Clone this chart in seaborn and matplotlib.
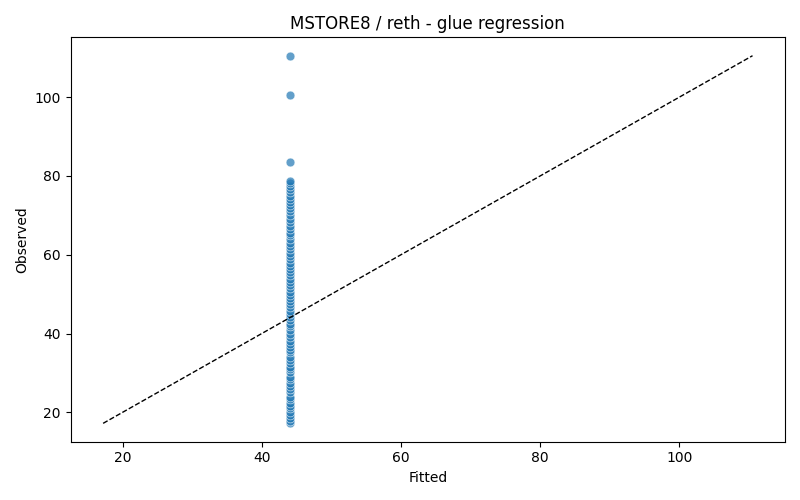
import matplotlib
matplotlib.use("Agg")
import matplotlib.pyplot as plt
import seaborn as sns
import pandas as pd

# observed gas values for each sample, fitted value is the same constant
observed = [17.2, 17.8, 18.5, 19.2, 20.1, 21.0, 21.6, 22.3, 23.5, 24.0,
            25.1, 26.0, 26.8, 27.5, 28.4, 29.0, 30.2, 31.0, 31.5, 32.4,
            33.3, 34.0, 35.2, 35.8, 36.5, 37.4, 38.0, 39.1, 40.0, 41.0,
            41.8, 42.5, 43.4, 44.2, 45.0, 45.8, 46.6, 47.5, 48.3, 49.0,
            49.8, 50.6, 51.5, 52.3, 53.0, 53.9, 54.8, 55.6, 56.4, 57.2,
            58.0, 58.9, 59.7, 60.5, 61.4, 62.2, 63.0, 64.0, 65.0, 65.6,
            66.5, 67.4, 68.2, 69.0, 70.1, 71.0, 71.8, 72.5, 73.4, 74.2,
            75.0, 75.8, 76.6, 77.4, 78.2, 78.6, 83.5, 100.5, 110.5]
fitted_value = 44.0
fitted = [fitted_value] * len(observed)

df = pd.DataFrame({"Fitted": fitted, "Observed": observed})

fig, ax = plt.subplots(figsize=(8, 5), dpi=100)
sns.scatterplot(data=df, x="Fitted", y="Observed", ax=ax, alpha=0.7, s=40)

lo = min(df["Fitted"].min(), df["Observed"].min())
hi = max(df["Fitted"].max(), df["Observed"].max())
ax.plot([lo, hi], [lo, hi], "k--", lw=1)

ax.set_title("MSTORE8 / reth - glue regression")
ax.set_xlabel("Fitted")
ax.set_ylabel("Observed")
fig.tight_layout()
fig.savefig("out.png")
